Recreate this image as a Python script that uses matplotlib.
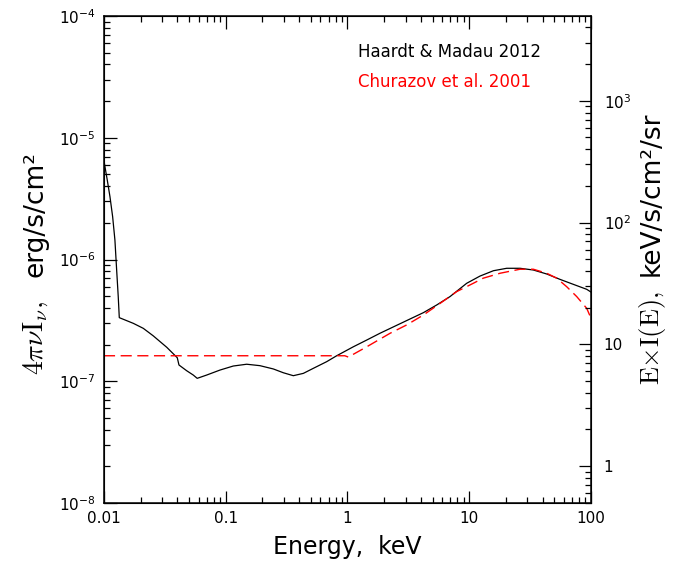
#!/usr/bin/env python3
"""Widmo tla rentgenowskiego (CXB / UVB): Haardt & Madau 2012 vs Churazov et al. 2001."""
import numpy as np
import matplotlib
matplotlib.use("Agg")
import matplotlib.pyplot as plt
from matplotlib.ticker import LogLocator, FixedLocator, FixedFormatter, NullFormatter

# Haardt & Madau 2012 — energia [keV], 4 pi nu I_nu [erg/s/cm^2]
hm_e = [0.0100, 0.01019, 0.01064, 0.0112, 0.01178, 0.0123, 0.01271, 0.0131, 0.01336,
        0.01742, 0.02104, 0.0254, 0.0328, 0.0400, 0.0413, 0.0478, 0.0541, 0.0583,
        0.0698, 0.0897, 0.1153, 0.1486, 0.191, 0.246, 0.297, 0.359, 0.434, 0.524,
        0.675, 0.815, 1.117, 1.438, 1.85, 3.06, 4.20, 5.40, 6.95, 9.53, 12.25,
        15.8, 20.3, 26.1, 33.6, 43.3, 55.6, 71.6, 92.2, 100.0]
hm_f = [6.5e-6, 5.78e-6, 4.50e-6, 3.28e-6, 2.25e-6, 1.445e-6, 8.2e-7, 4.94e-7, 3.33e-7,
        2.99e-7, 2.72e-7, 2.36e-7, 1.90e-7, 1.56e-7, 1.36e-7, 1.22e-7, 1.125e-7, 1.057e-7,
        1.125e-7, 1.236e-7, 1.334e-7, 1.38e-7, 1.343e-7, 1.262e-7, 1.175e-7, 1.111e-7,
        1.161e-7, 1.277e-7, 1.449e-7, 1.62e-7, 1.92e-7, 2.18e-7, 2.48e-7, 3.15e-7,
        3.66e-7, 4.23e-7, 4.96e-7, 6.38e-7, 7.31e-7, 8.09e-7, 8.47e-7, 8.47e-7,
        8.20e-7, 7.60e-7, 6.87e-7, 6.25e-7, 5.69e-7, 5.40e-7]

# Churazov et al. 2001
ch_e = [0.0100, 0.95, 1.016, 1.44, 2.24, 3.06, 4.20, 5.76, 7.89, 10.8, 13.0, 17.9,
        26.1, 33.6, 43.3, 52.3, 63.1, 76.3, 92.2, 100.0]
ch_f = [1.62e-7, 1.62e-7, 1.58e-7, 1.92e-7, 2.48e-7, 2.90e-7, 3.50e-7, 4.36e-7, 5.45e-7,
        6.38e-7, 7.02e-7, 7.71e-7, 8.32e-7, 8.32e-7, 7.71e-7, 7.02e-7, 5.98e-7,
        4.96e-7, 3.97e-7, 3.29e-7]

x_ticks = [0.01, 0.1, 1, 10, 100]
x_labels = ["0.01", "0.1", "1", "10", "100"]
r_ticks = [1, 10, 100, 1000]
r_labels = ["1", "10", r"$10^2$", r"$10^3$"]

# erg/s/cm^2 -> keV/s/cm^2/sr
ERG2KEV = 6.242e8 / (4 * np.pi)
YLIM = (1e-8, 1e-4)

plt.rcParams["font.family"] = "DejaVu Sans"
plt.rcParams["mathtext.fontset"] = "dejavusans"

fig = plt.figure(figsize=(6.76, 5.65), dpi=100)
ax = fig.add_axes([0.1538, 0.1097, 0.7205, 0.862])

ax.plot(hm_e, hm_f, color="black", lw=0.9)
ax.plot(ch_e, ch_f, color="red", lw=1.0, dashes=(8, 4))

ax.set_xscale("log")
ax.set_yscale("log")
ax.set_xlim(0.01, 100)
ax.set_ylim(*YLIM)

ax.xaxis.set_major_locator(FixedLocator(x_ticks))
ax.xaxis.set_major_formatter(FixedFormatter(x_labels))
ax.xaxis.set_minor_locator(LogLocator(base=10, subs=np.arange(2, 10)))
ax.xaxis.set_minor_formatter(NullFormatter())
ax.yaxis.set_major_locator(LogLocator(base=10, numticks=10))
ax.yaxis.set_minor_locator(LogLocator(base=10, subs=np.arange(2, 10), numticks=10))
ax.yaxis.set_minor_formatter(NullFormatter())

ax.tick_params(which="both", direction="in", top=True, right=False, labelsize=11,
               width=0.9, pad=6)
ax.tick_params(which="major", length=9)
ax.tick_params(which="minor", length=4.5)
for s in ax.spines.values():
    s.set_linewidth(1.1)

ax2 = ax.twinx()
ax2.set_yscale("log")
ax2.set_ylim(YLIM[0] * ERG2KEV, YLIM[1] * ERG2KEV)
ax2.yaxis.set_major_locator(FixedLocator(r_ticks))
ax2.yaxis.set_major_formatter(FixedFormatter(r_labels))
ax2.yaxis.set_minor_locator(LogLocator(base=10, subs=np.arange(2, 10), numticks=10))
ax2.yaxis.set_minor_formatter(NullFormatter())
ax2.tick_params(which="both", direction="in", labelsize=11, width=0.9, pad=9)
ax2.tick_params(which="major", length=9)
ax2.tick_params(which="minor", length=4.5)

ax.set_xlabel("Energy,  keV", fontsize=17, labelpad=6)

# etykiety osi Y: czesc matematyczna (szeryfowa) i jednostki osobno
lab = dict(rotation=90, rotation_mode="anchor", ha="center", va="baseline")
fig.text(0.0636, 0.4018, r"$4\pi\nu\mathrm{I}_\nu,$", fontsize=20,
         math_fontfamily="cm", **lab)
fig.text(0.0636, 0.6204, "erg/s/cm²", fontsize=19, **lab)
fig.text(0.9749, 0.4018, r"$\mathrm{E{\times}I(E)},$", fontsize=19,
         math_fontfamily="cm", **lab)
fig.text(0.9749, 0.6575, "keV/s/cm²/sr", fontsize=19, **lab)

ax.text(0.522, 0.926, "Haardt & Madau 2012", transform=ax.transAxes,
        fontsize=12, color="black", va="center")
ax.text(0.522, 0.8645, "Churazov et al. 2001", transform=ax.transAxes,
        fontsize=12, color="red", va="center")

fig.savefig("out.png", dpi=100)
